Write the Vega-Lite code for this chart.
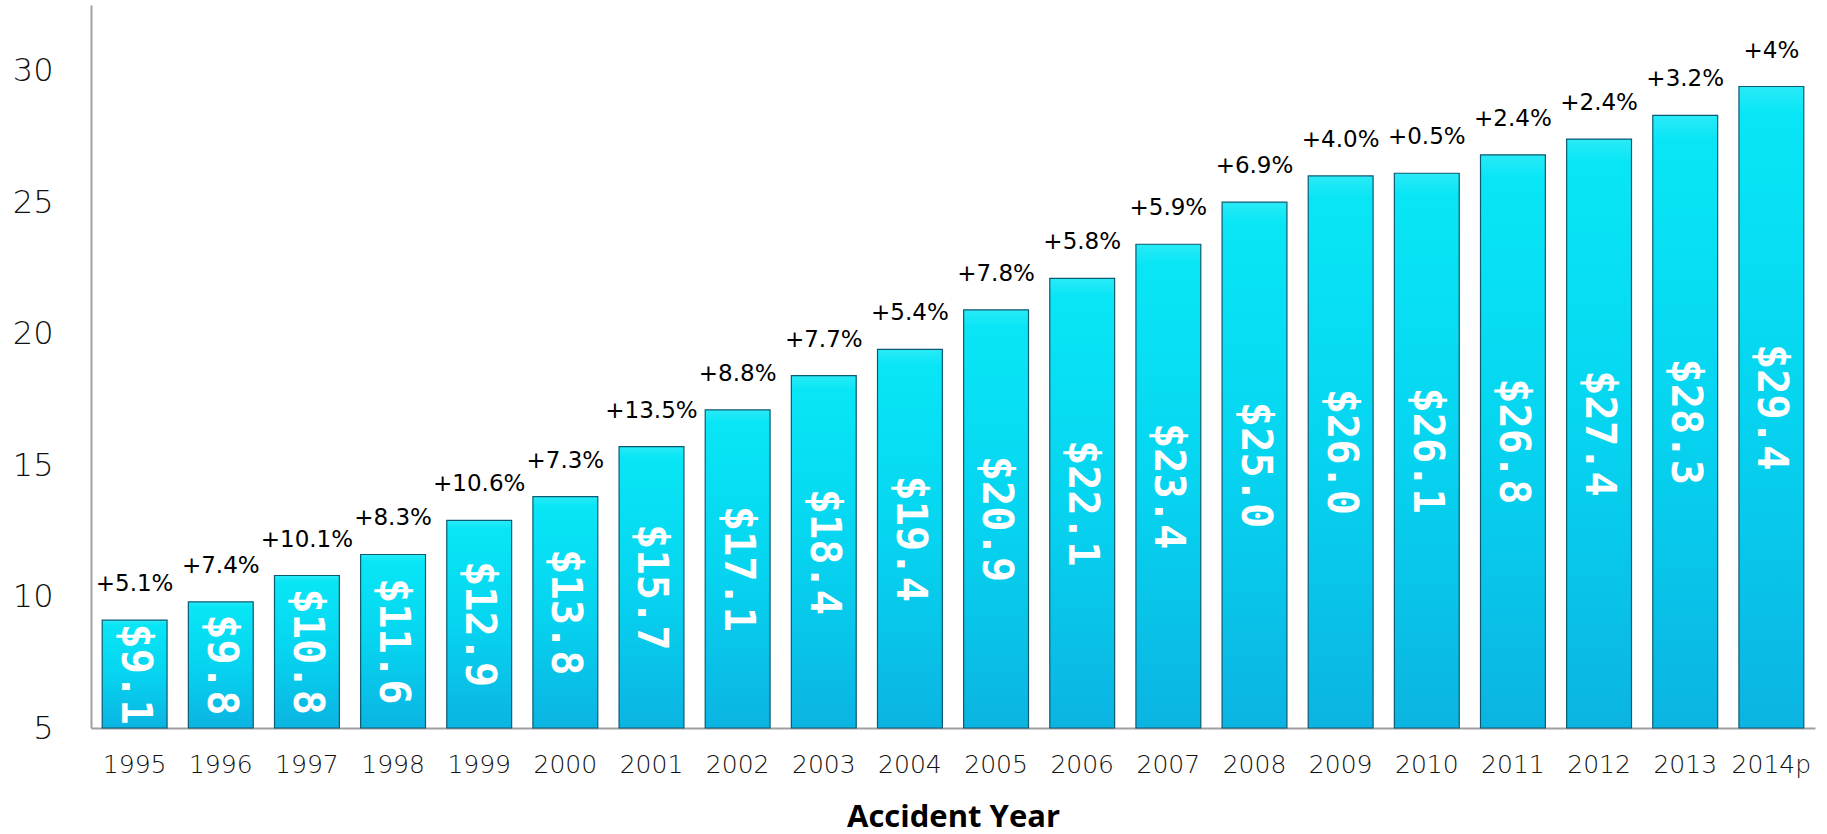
{
  "$schema": "https://vega.github.io/schema/vega-lite/v6.json",
  "autosize": {"type": "none"},
  "width": 1724,
  "height": 723,
  "padding": {"left": 91, "top": 5, "right": 12, "bottom": 106},
  "background": "white",
  "config": {"view": {"stroke": null}},
  "data": {"values": [
    {"year": "1995", "value": 9.1, "change": "+5.1%"},
    {"year": "1996", "value": 9.8, "change": "+7.4%"},
    {"year": "1997", "value": 10.8, "change": "+10.1%"},
    {"year": "1998", "value": 11.6, "change": "+8.3%"},
    {"year": "1999", "value": 12.9, "change": "+10.6%"},
    {"year": "2000", "value": 13.8, "change": "+7.3%"},
    {"year": "2001", "value": 15.7, "change": "+13.5%"},
    {"year": "2002", "value": 17.1, "change": "+8.8%"},
    {"year": "2003", "value": 18.4, "change": "+7.7%"},
    {"year": "2004", "value": 19.4, "change": "+5.4%"},
    {"year": "2005", "value": 20.9, "change": "+7.8%"},
    {"year": "2006", "value": 22.1, "change": "+5.8%"},
    {"year": "2007", "value": 23.4, "change": "+5.9%"},
    {"year": "2008", "value": 25.0, "change": "+6.9%"},
    {"year": "2009", "value": 26.0, "change": "+4.0%"},
    {"year": "2010", "value": 26.1, "change": "+0.5%"},
    {"year": "2011", "value": 26.8, "change": "+2.4%"},
    {"year": "2012", "value": 27.4, "change": "+2.4%"},
    {"year": "2013", "value": 28.3, "change": "+3.2%"},
    {"year": "2014p", "value": 29.4, "change": "+4%"}
  ]},
  "encoding": {
    "x": {
      "field": "year", "type": "ordinal", "sort": null,
      "scale": {"paddingInner": 0.247, "paddingOuter": 0.13},
      "axis": {
        "title": "Accident Year",
        "titleFont": "Open Sans", "titleFontSize": 31, "titleFontWeight": "bold", "titleColor": "#000000",
        "titlePadding": 25,
        "labelAngle": 0, "labelFont": "DejaVu Sans", "labelFontSize": 25, "labelFontWeight": 300,
        "labelColor": "#111111", "labelPadding": 24,
        "ticks": false, "domainColor": "#a0a0a0", "domainWidth": 2
      }
    }
  },
  "layer": [
    {
      "mark": {
        "type": "bar", "clip": false,
        "stroke": "#0a5a72", "strokeWidth": 1.2,
        "color": {
          "gradient": "linear", "x1": 0, "y1": 0, "x2": 0, "y2": 1,
          "stops": [
            {"offset": 0, "color": "#2aeaf6"},
            {"offset": 0.04, "color": "#08e6f6"},
            {"offset": 0.5, "color": "#06d4f0"},
            {"offset": 1, "color": "#0bb4e2"}
          ]
        }
      },
      "encoding": {
        "y": {
          "field": "value", "type": "quantitative",
          "scale": {"domain": [5, 32.5], "zero": false, "nice": false},
          "axis": {
            "title": null, "values": [5, 10, 15, 20, 25, 30], "grid": false, "ticks": false,
            "labelFont": "DejaVu Sans", "labelFontSize": 32, "labelFontWeight": 300, "labelColor": "#111111",
            "labelPadding": 38, "domainColor": "#a0a0a0", "domainWidth": 2
          }
        },
        "y2": {"datum": 5}
      }
    },
    {
      "mark": {"type": "text", "font": "DejaVu Sans", "fontSize": 23, "color": "#000000", "baseline": "alphabetic", "dy": -29},
      "encoding": {
        "y": {"field": "value", "type": "quantitative", "scale": {"domain": [5, 32.5], "zero": false, "nice": false}, "axis": null},
        "text": {"field": "change"}
      }
    },
    {
      "mark": {"type": "text", "font": "DejaVu Sans Mono", "fontWeight": "bold", "fontSize": 42, "color": "#ffffff", "angle": 90, "align": "center", "baseline": "middle"},
      "encoding": {
        "y": {"field": "value", "type": "quantitative", "scale": {"domain": [5, 60], "zero": false, "nice": false}, "axis": null},
        "text": {"field": "value", "type": "quantitative", "format": "$.1f"}
      }
    }
  ],
  "resolve": {"scale": {"y": "independent"}}
}
